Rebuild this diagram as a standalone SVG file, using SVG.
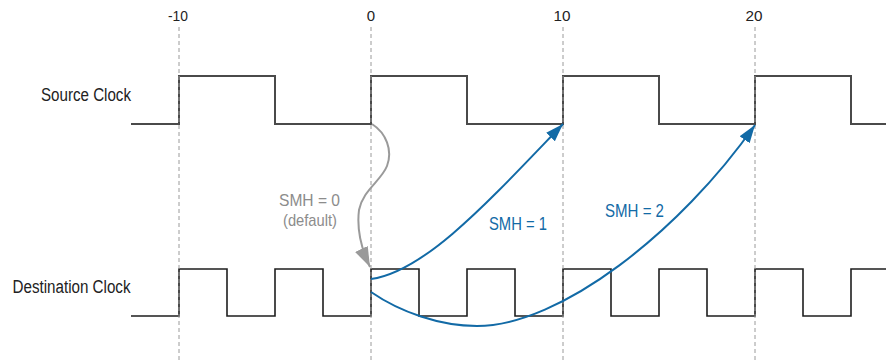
<svg xmlns="http://www.w3.org/2000/svg" width="886" height="362" viewBox="0 0 886 362">
<style>
.grid{stroke:#9a9a9a;stroke-width:1;stroke-dasharray:4 3;fill:none}
.tick{font-family:"Liberation Sans",Arial,sans-serif;font-size:15px;fill:#222;text-anchor:middle}
.lbl{font-family:"Liberation Sans",Arial,sans-serif;font-size:18px;fill:#222}
.wave-src{stroke:#4a4a4a;stroke-width:2;fill:none}
.wave-dst{stroke:#1e1e1e;stroke-width:1.6;fill:none}
.blue{stroke:#126aa6;stroke-width:2;fill:none}
.gray{stroke:#9a9a9a;stroke-width:2;fill:none}
.tblue{font-family:"Liberation Sans",Arial,sans-serif;font-size:18px;fill:#126aa6}
.tgray{font-family:"Liberation Sans",Arial,sans-serif;font-size:17px;fill:#8c8c8c}
</style>
<defs>
<marker id="ab" markerUnits="userSpaceOnUse" markerWidth="20" markerHeight="14" refX="18" refY="6" orient="auto">
<path d="M0,0 L18,6 L0,12 z" fill="#126aa6"/>
</marker>
<marker id="ag" markerUnits="userSpaceOnUse" markerWidth="22" markerHeight="16" refX="20" refY="7" orient="auto">
<path d="M0,0 L20,7 L0,14 z" fill="#9a9a9a"/>
</marker>
</defs>
<g id="timeline">
<text class="tick" x="178" y="21" textLength="20" lengthAdjust="spacingAndGlyphs">-10</text>
<text class="tick" x="371" y="21">0</text>
<text class="tick" x="562" y="21" textLength="17" lengthAdjust="spacingAndGlyphs">10</text>
<text class="tick" x="754" y="21" textLength="17" lengthAdjust="spacingAndGlyphs">20</text>
</g>
<g id="source-clock">
<text class="lbl" x="41" y="101" textLength="90" lengthAdjust="spacingAndGlyphs">Source Clock</text>
<path class="wave-src" d="M131,124 H179 V76 H275 V124 H371 V76 H467 V124 H563 V76 H659 V124 H755 V76 H851 V124 H886"/>
</g>
<g id="destination-clock">
<text class="lbl" x="12.5" y="293" textLength="118" lengthAdjust="spacingAndGlyphs">Destination Clock</text>
<path class="wave-dst" d="M131,316 H179 V269 H227 V316 H275 V269 H323 V316 H371 V269 H419 V316 H467 V269 H515 V316 H563 V269 H611 V316 H659 V269 H707 V316 H755 V269 H803 V316 H851 V269 H886"/>
</g>
<g id="grid">
<line class="grid" x1="179" y1="27" x2="179" y2="362"/>
<line class="grid" x1="371" y1="27" x2="371" y2="362"/>
<line class="grid" x1="563" y1="27" x2="563" y2="362"/>
<line class="grid" x1="755" y1="27" x2="755" y2="362"/>
</g>
<g id="connectors">
<path class="gray" marker-end="url(#ag)" d="M372,124 C386,133 393,150 387,166 C381,181 363,190 359,210 C357,226 360,246 370,267"/>
<path class="blue" marker-end="url(#ab)" d="M371,279 C425,272 490,200 563,124"/>
<path class="blue" marker-end="url(#ab)" d="M371,292 C400,312 440,326 477,326 C560,326 680,232 755,125"/>
</g>
<g id="labels">
<text class="tgray" x="279" y="206" textLength="61" lengthAdjust="spacingAndGlyphs">SMH = 0</text>
<text class="tgray" x="283" y="226" textLength="54" lengthAdjust="spacingAndGlyphs">(default)</text>
<text class="tblue" x="489" y="230" textLength="58" lengthAdjust="spacingAndGlyphs">SMH = 1</text>
<text class="tblue" x="605" y="217" textLength="59" lengthAdjust="spacingAndGlyphs">SMH = 2</text>
</g>
</svg>
